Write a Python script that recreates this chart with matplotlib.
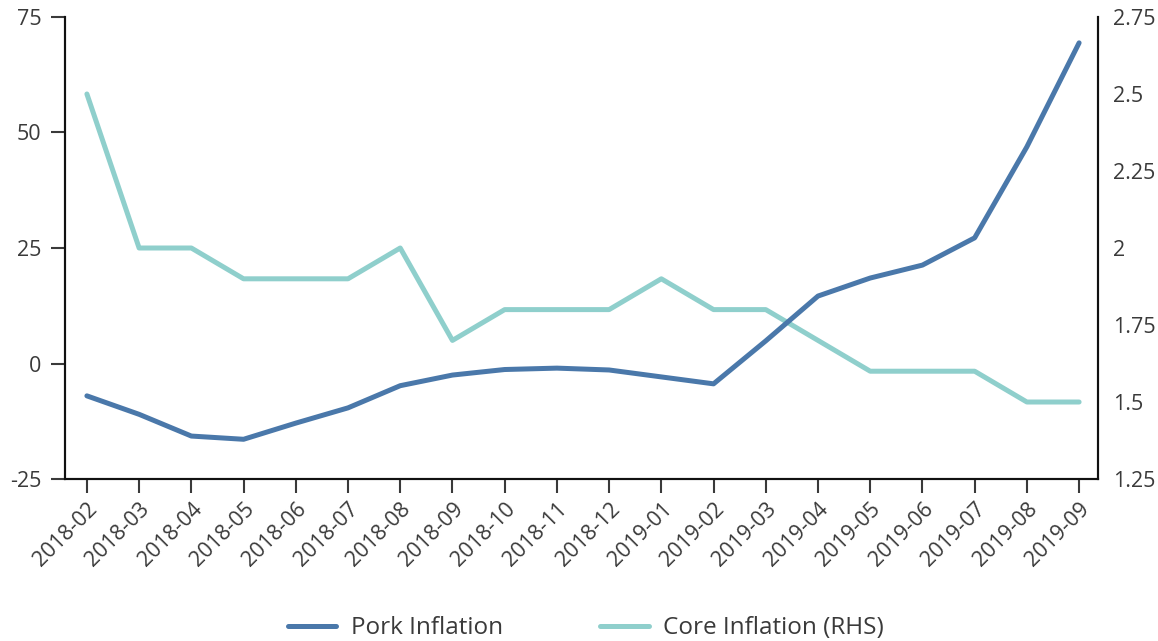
import matplotlib
matplotlib.use("Agg")
import matplotlib.pyplot as plt

plt.rcParams['font.family'] = ['Open Sans', 'DejaVu Sans']
plt.rcParams['axes.unicode_minus'] = False

months = ["2018-02", "2018-03", "2018-04", "2018-05", "2018-06", "2018-07",
          "2018-08", "2018-09", "2018-10", "2018-11", "2018-12", "2019-01",
          "2019-02", "2019-03", "2019-04", "2019-05", "2019-06", "2019-07",
          "2019-08", "2019-09"]
pork = [-7.0, -11.0, -15.7, -16.4, -12.9, -9.6, -4.8, -2.5, -1.3, -1.0,
        -1.4, -2.9, -4.4, 4.9, 14.6, 18.5, 21.3, 27.2, 46.9, 69.4]
core = [2.5, 2.0, 2.0, 1.9, 1.9, 1.9, 2.0, 1.7, 1.8, 1.8,
        1.8, 1.9, 1.8, 1.8, 1.7, 1.6, 1.6, 1.6, 1.5, 1.5]

PORK_COLOR = "#4a78aa"
CORE_COLOR = "#8fcfcc"
TEXT_COLOR = "#3a3a3a"

fig = plt.figure(figsize=(11.58, 6.41), dpi=100)
ax = fig.add_axes([0.0561, 0.2527, 0.8920, 0.7208])
ax2 = ax.twinx()

x = list(range(len(months)))
l1, = ax.plot(x, pork, color=PORK_COLOR, lw=3.6, solid_capstyle="round", label="Pork Inflation")
l2, = ax2.plot(x, core, color=CORE_COLOR, lw=3.6, solid_capstyle="round", label="Core Inflation (RHS)")
ax.set_zorder(ax2.get_zorder() + 1)
ax.patch.set_visible(False)

ax.set_xlim(-0.42, 19.36)
ax.set_ylim(-25, 75)
ax.set_yticks([-25, 0, 25, 50, 75])
ax2.set_ylim(1.25, 2.75)
ax2.set_yticks([1.25, 1.5, 1.75, 2, 2.25, 2.5, 2.75])
ax2.set_yticklabels(["1.25", "1.5", "1.75", "2", "2.25", "2.5", "2.75"])

ax.set_xticks(x)
ax.set_xticklabels(months, rotation=45, ha="right", rotation_mode="anchor")

for a in (ax, ax2):
    a.spines["top"].set_visible(False)
    for s in a.spines.values():
        s.set_linewidth(1.5)
        s.set_color("#111111")

ax.tick_params(axis="both", labelsize=15.5, colors=TEXT_COLOR, length=10, width=1.5)
ax.tick_params(axis="x", pad=4)
ax.tick_params(axis="y", pad=7)
ax2.tick_params(axis="y", labelsize=15.5, colors=TEXT_COLOR, length=0, pad=11)
for a in (ax, ax2):
    for t in a.get_xticklines() + a.get_yticklines():
        t.set_color("#111111")

fig.legend([l1, l2], ["Pork Inflation", "Core Inflation (RHS)"], loc="center",
           bbox_to_anchor=(0.506, 0.02), ncol=2, frameon=False, fontsize=17.5,
           handlelength=2.0, handletextpad=0.6, columnspacing=4.0, labelcolor=TEXT_COLOR)

fig.savefig("out.png", dpi=100)
